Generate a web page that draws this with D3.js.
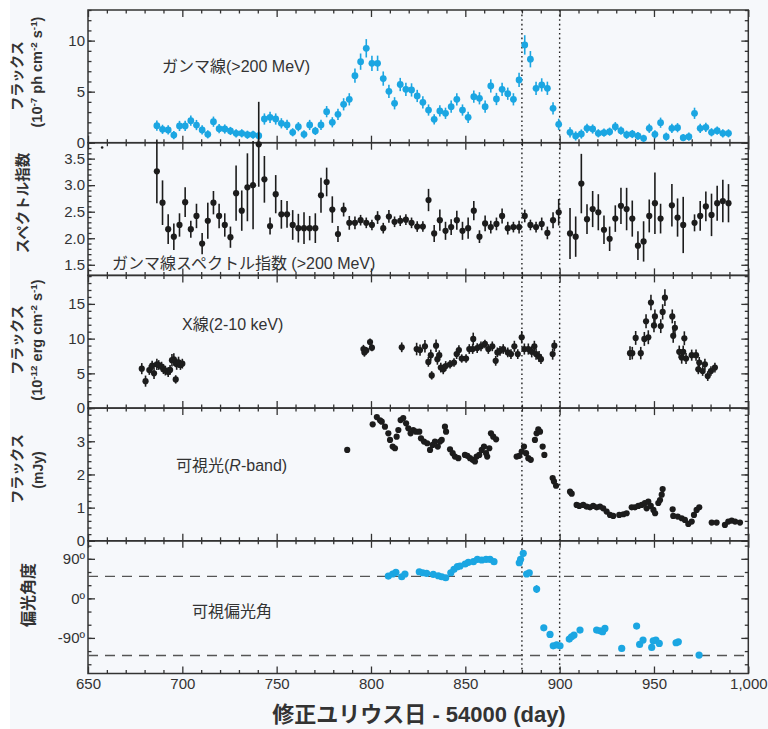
<!DOCTYPE html>
<html>
<head>
<meta charset="utf-8">
<script src="https://cdn.jsdelivr.net/npm/d3@7"></script>
<style>
body { margin: 0; background: #fff; }
svg text { font-family: "Liberation Sans", Arial, "Noto Sans CJK JP", sans-serif; fill: #333; }
</style>
</head>
<body>
<div id="chart"></div>
<script>
// ---- data ----
// gamma-ray flux (>200 MeV), 1e-7 ph cm-2 s-1
const gammaDay = [686.5,689.5,692.5,695.5,698.5,701.5,704.5,707.5,710.5,713.5,716.5,719.5,722.5,725.5,728.5,731.5,734.5,737.5,740.5,743.5,
  746.5,749.5,752.5,755.5,758.5,761.5,764.5,767.5,770.5,773.5,776.5,779.5,782.5,785.5,788.5,791.5,794.5,797.5,800.5,803.5,
  806.5,809.5,812.5,815.5,818.5,821.5,824.5,827.5,830.5,833.5,836.5,839.5,842.5,845.5,848.5,851.5,854.5,857.5,860.5,863.5,
  866.5,869.5,872.5,875.5,878.5,881.5,884.5,887.5,890.5,893.5,896.5,899.5,
  905.5,908.5,911.5,914.5,917.5,920.5,923.5,926.5,929.5,932.5,935.5,938.5,941.5,944.5,947.5,950.5,953.5,956.5,959.5,962.5,
  965.5,968.5,971.5,974.5,977.5,980.5,983.5,986.5,989.5];
const gammaFlux = [1.67,1.31,1.25,0.75,1.64,1.64,2.16,1.73,1.25,0.82,2.06,1.37,1.34,1.15,0.92,0.92,0.78,0.78,0.69,2.32,
  2.49,2.32,1.90,1.74,1.02,1.57,0.82,1.74,1.15,1.74,3.04,2.00,2.78,3.76,4.25,6.57,7.94,9.25,7.78,7.78,
  6.28,5.03,3.86,5.70,5.23,5.17,4.58,3.96,3.20,2.29,3.11,2.88,3.53,4.25,3.20,2.49,4.51,4.35,3.53,5.56,
  4.28,5.23,4.80,4.25,6.15,9.58,8.18,5.33,5.66,5.33,3.37,1.80,
  1.02,0.66,0.85,1.41,1.34,0.92,0.98,1.08,1.57,1.18,0.78,0.85,0.66,0.43,1.41,0.82,1.96,0.59,1.41,1.47,
  0.49,0.59,2.88,1.41,1.51,1.02,1.18,0.92,0.92];
const gammaErr = [.5,.45,.45,.4,.5,.5,.5,.5,.45,.4,.5,.45,.45,.4,.4,.4,.4,.4,.4,.55,
  .55,.55,.5,.5,.4,.45,.4,.5,.4,.5,.55,.5,.55,.6,.6,.7,.8,.9,.75,.75,
  .7,.65,.6,.65,.65,.65,.6,.6,.55,.5,.55,.55,.6,.6,.55,.55,.6,.6,.6,.65,
  .6,.65,.6,.6,.7,.95,.8,.65,.65,.65,.6,.55,
  .5,.45,.45,.45,.45,.4,.4,.4,.45,.4,.4,.4,.4,.35,.45,.4,.5,.4,.45,.45,
  .35,.4,.55,.45,.45,.4,.4,.4,.4];

// gamma-ray photon index
const indexDay = [686.5,689.5,692.5,695.5,698.5,701.5,704.5,707.5,710.5,713.5,716.5,719.5,722.5,725.5,728.5,731.5,734.5,737.5,740.5,743.5,
  746.5,749.5,752.5,755.5,758.5,761.5,764.5,767.5,770.5,773.5,776.5,779.5,782.5,785.5,788.5,791.5,794.5,797.5,800.5,803.5,
  806.5,809.5,812.5,815.5,818.5,821.5,824.5,827.5,830.5,833.5,836.5,839.5,842.5,845.5,848.5,851.5,854.5,857.5,860.5,863.5,
  866.5,869.5,872.5,875.5,878.5,881.5,884.5,887.5,890.5,893.5,896.5,899.5,
  905.5,908.5,911.5,914.5,917.5,920.5,923.5,926.5,929.5,932.5,935.5,938.5,941.5,944.5,947.5,950.5,953.5,
  959.5,962.5,965.5,971.5,974.5,977.5,980.5,983.5,986.5,989.5];
const indexVal = [3.26,2.67,2.17,2.03,2.25,2.68,2.17,2.42,1.90,2.33,2.67,2.42,2.25,2.02,2.85,2.52,2.96,3.00,3.77,3.11,
  2.23,2.83,2.45,2.45,2.25,2.19,2.19,2.19,2.19,2.81,3.06,2.54,2.08,2.54,2.29,2.29,2.34,2.29,2.25,2.39,
  2.19,2.41,2.31,2.33,2.35,2.29,2.22,2.22,2.72,2.09,2.34,2.14,2.21,2.34,2.14,2.19,2.52,2.03,2.28,2.21,
  2.27,2.42,2.19,2.21,2.21,2.42,2.25,2.21,2.27,2.10,2.34,2.49,
  2.09,2.03,3.03,2.36,2.55,2.49,2.16,1.99,2.37,2.61,2.55,2.37,1.86,1.94,2.42,2.66,2.37,
  2.62,2.39,2.25,2.29,2.42,2.60,2.44,2.66,2.70,2.66];
const indexErr = [.6,.42,.28,.25,.22,.28,.16,.23,.2,.34,.22,.23,.22,.2,.52,.38,.64,.83,.8,.44,
  .16,.36,.27,.25,.28,.27,.3,.23,.28,.33,.27,.25,.15,.13,.13,.12,.1,.1,.1,.12,
  .1,.12,.1,.1,.1,.1,.1,.1,.21,.16,.2,.17,.15,.18,.17,.2,.18,.12,.15,.12,
  .12,.14,.12,.1,.12,.12,.1,.1,.12,.12,.15,.25,
  .48,.38,.56,.28,.34,.34,.27,.23,.25,.34,.4,.34,.27,.38,.31,.58,.28,
  .4,.36,.53,.16,.28,.28,.4,.33,.4,.36];
const strayDay = [657.5];
const strayVal = [3.71];

// X-ray flux (2-10 keV), 1e-12 erg cm-2 s-1
const xrayDay = [678.5,680.5,682.5,684,685,686.5,687.5,689,690,691,692.5,693.5,694.5,695.5,696.5,697,698,699,700,
  796,796.5,797.5,799.5,800.5,
  816.3,824.2,826,828.6,830.4,831.7,832.2,834.5,835.2,836.2,837,838.3,839.6,841.9,844,845.4,846.6,848.1,850.4,852.1,
  853.9,854.2,856.3,858.3,860.4,862.2,864.3,866.1,867,868.4,870.1,872.5,874.2,876,877.8,879.9,881.3,883.4,885.2,886.6,
  887.5,889.1,890.1,896.3,897.2,
  937.3,938.5,940.3,943,944.9,945.8,947,948.4,950,950.5,953.6,954.6,955.8,959.7,960.2,961.1,963.4,964.7,965.5,966.1,
  967,970,972.3,973.5,974,975.8,977,978.5,980.2,982.3];
const xrayFlux = [5.68,3.88,5.48,6.1,5.0,6.3,6.2,5.97,5.6,5.4,5.19,5.5,6.9,7.0,4.13,6.31,6.6,6.2,6.4,
  8.5,8.0,8.3,9.5,8.7,
  8.75,8.5,8.35,8.89,6.65,7.62,4.71,8.98,7.04,7.62,5.83,5.58,6.06,6.31,6.56,7.77,8.35,7.14,7.14,8.5,
  8.5,9.96,8.64,8.89,9.23,8.5,8.89,6.8,8.02,8.25,8.5,8.02,7.77,8.89,7.77,10.2,8.5,8.5,8.1,8.89,
  7.77,7.43,7.04,7.77,8.98,
  7.91,7.91,10.1,7.91,9.96,12.5,10.2,15.2,11.9,13.2,11.8,13.85,15.9,13.2,10.4,11.55,8.1,7.29,8.1,10.05,
  7.14,7.62,7.62,5.58,6.56,5.34,6.31,4.61,5.34,5.83];
const xrayErr = [.8,.8,.7,.7,.8,.8,.7,.7,.7,.7,.7,.7,.9,.9,.6,.8,.8,.7,.7,
  .6,.6,.5,.5,.5,
  .7,.9,.8,.9,.7,.8,.6,.9,.8,.7,.7,.7,.7,.6,.6,.7,.7,.6,.6,.7,
  .7,.9,.7,.7,.6,.7,.7,.7,.7,.7,.7,.7,.7,.8,.7,.9,.8,.8,.8,.8,
  .8,.8,.7,.8,.8,
  1.0,.9,1.0,.9,1.0,1.0,1.0,1.1,1.0,1.0,1.0,1.1,1.2,1.0,1.0,1.0,.9,.9,.9,1.0,
  .8,.8,.8,.7,.8,.7,.8,.7,.7,.7];

// optical R-band flux, mJy
const optDay = [787.4,800.9,803.1,804.8,805.7,807.4,809.2,810.1,811.5,812.7,813.6,814.5,815.7,817.1,818.6,819.8,821,822.4,823.9,825.6,
  826.5,828.1,829.8,831.3,832.7,833.9,835.4,836.6,837.5,839.2,839.8,841.9,843.3,844.5,846.3,849.8,851.1,852.5,853.9,855.1,
  856,857.4,858.7,859.9,861,861.6,862.7,863.6,864.8,866.3,
  877.2,878.6,879.9,881.1,882.2,883.4,884.7,886.9,887.8,888.7,889.6,891,891.9,896.3,897,898.1,
  905.5,906.4,909,910.4,912.5,914.3,916.1,917.8,919.6,921.4,923.1,924.9,926.7,928.4,931.6,933.8,935.5,938.2,939.9,941.7,
  943.5,945.2,946.1,947,948.3,949.7,950.6,952.3,953.2,954.1,954.6,
  959.9,960.2,962.6,964.7,966.4,968.2,970,971.2,972.6,974,980.6,983.2,987.6,989.4,991.2,993,995.6];
const optFlux = [2.74,3.51,3.73,3.63,3.59,3.44,3.24,3.04,2.84,2.79,3.14,3.34,3.64,3.70,3.54,3.39,3.24,3.34,3.29,3.29,
  3.09,2.99,2.94,2.74,2.89,2.99,2.84,2.99,3.04,3.44,3.29,2.76,2.64,2.54,2.49,2.59,2.56,2.49,2.44,2.39,
  2.54,2.59,2.74,2.84,2.64,2.54,2.79,3.24,3.14,3.06,
  2.54,2.56,2.69,2.84,2.64,2.49,2.44,3.04,3.24,3.36,3.29,2.84,2.59,1.89,1.79,1.66,
  1.48,1.42,1.08,1.05,1.08,1.03,1.01,1.05,1.01,1.03,0.98,0.88,0.78,0.75,0.78,0.80,0.83,1.01,1.01,1.05,
  1.08,1.14,0.98,1.18,1.05,0.93,0.83,1.14,1.23,1.39,1.56,
  0.95,0.75,0.73,0.68,0.63,0.51,0.58,0.78,0.93,1.01,0.55,0.55,0.48,0.58,0.61,0.58,0.55];

// optical polarization angle, degrees
const polDay = [809.2,811.5,813.2,816.3,818,825.6,827.4,829.5,833,835.7,837.5,839.6,842.3,844,845.8,847.2,849.9,851.6,854.3,856.4,
  858.7,861,863.1,865.2,878.6,879.3,880.7,882.5,883.9,887.8,891.6,894.9,896.6,898.4,900.2,905.1,906.3,907.6,910.8,919.6,
  921.4,922.8,924,932.9,940.8,942.4,944.2,948.8,949.6,951,952.8,961.7,962.9,973.9];
const polAngle = [50.8,55.4,59.2,49.2,55.4,60.6,58.3,57,54.7,51.5,49.2,46.9,58.3,66.1,72,73.6,78.2,82,83.4,88.9,
  87.3,88.9,88.9,83.4,81.1,88.9,102.5,55.4,58.3,21.2,-67,-82,-108,-106,-108,-92.7,-87.5,-83.6,-72.2,-72.2,
  -73.8,-76,-68.4,-114,-63,-104.8,-95,-111.6,-96.6,-95,-102.5,-101,-98.8,-129];
const polErr = [2,2,2,2,2,2,2,2,2,2,2,2,2,2,2,2,2,2,2,2,
  2,2,2,2,3,3,5,3,3,9,3,3,3,3,3,3,3,3,3,3,
  3,3,3,7,4,3,3,3,3,3,3,3,3,2];

const flareLines = [880, 900];
const polRefLines = [50, -130];

// ---- layout ----
const W = 768, H = 729;
const FONT = '"Liberation Sans", Arial, "Noto Sans CJK JP", sans-serif';
const BLUE = "#1ba6e2", INK = "#1c1c1c", AX = "#333";
const left = 88, right = 748.3, top0 = 10, panelH = 132.7;

const svg = d3.select("#chart").append("svg")
    .attr("width", W)
    .attr("height", H);

svg.append("rect").attr("x", 10).attr("width", W - 10).attr("height", H).attr("fill", "#f6f8fb");

const x = d3.scaleLinear().domain([650, 1000]).range([left, right]);
const xMajor = d3.range(650, 1001, 50);
const xMinor = d3.range(650, 1001, 10).filter(v => v % 50 !== 0);

function styleAxis(g) {
    g.attr("font-size", 15).attr("font-family", FONT);
    g.select(".domain").remove();
    g.selectAll("line").attr("stroke", AX).attr("stroke-width", 1.3);
    g.selectAll("text").attr("fill", AX);
}

const frames = svg.append("g");

function makePanel(i, domain, major, minor, fmt, last) {
    const y0 = top0 + i * panelH, y1 = y0 + panelH;
    const y = d3.scaleLinear().domain(domain).range([y1, y0]);
    const g = svg.append("g");

    frames.append("rect")
        .attr("x", left).attr("y", y0)
        .attr("width", right - left).attr("height", panelH)
        .attr("fill", "none").attr("stroke", AX).attr("stroke-width", 1.5);

    // y ticks, left with labels, right bare
    g.append("g").attr("transform", `translate(${left},0)`)
        .call(d3.axisLeft(y).tickValues(major).tickFormat(fmt).tickSize(-7).tickPadding(3)).call(styleAxis);
    g.append("g").attr("transform", `translate(${left},0)`)
        .call(d3.axisLeft(y).tickValues(minor).tickFormat("").tickSize(-3.5)).call(styleAxis);
    g.append("g").attr("transform", `translate(${right},0)`)
        .call(d3.axisRight(y).tickValues(major).tickFormat("").tickSize(-7)).call(styleAxis);
    g.append("g").attr("transform", `translate(${right},0)`)
        .call(d3.axisRight(y).tickValues(minor).tickFormat("").tickSize(-3.5)).call(styleAxis);

    // x ticks top and bottom of every panel
    g.append("g").attr("transform", `translate(0,${y0})`)
        .call(d3.axisTop(x).tickValues(xMajor).tickFormat("").tickSize(-7)).call(styleAxis);
    g.append("g").attr("transform", `translate(0,${y0})`)
        .call(d3.axisTop(x).tickValues(xMinor).tickFormat("").tickSize(-3.5)).call(styleAxis);
    g.append("g").attr("transform", `translate(0,${y1})`)
        .call(d3.axisBottom(x).tickValues(xMajor).tickFormat(last ? d3.format(",") : "").tickSize(-7).tickPadding(5)).call(styleAxis);
    g.append("g").attr("transform", `translate(0,${y1})`)
        .call(d3.axisBottom(x).tickValues(xMinor).tickFormat("").tickSize(-3.5)).call(styleAxis);

    return { y, y0, y1 };
}

const p1 = makePanel(0, [0, 13], [0, 5, 10], d3.range(0, 13.1, 1), d3.format("d"));
const p2 = makePanel(1, [1.3, 3.8], [1.5, 2.0, 2.5, 3.0, 3.5], d3.range(1.3, 3.81, 0.1), d3.format(".1f"));
const p3 = makePanel(2, [0, 19.1], [0, 5, 10, 15], d3.range(0, 19.1, 1), d3.format("d"));
const p4 = makePanel(3, [0, 4], [0, 1, 2, 3], d3.range(0, 4.01, 0.2), d3.format("d"));
const p5 = makePanel(4, [-171, 131], [90, 0, -90], d3.range(-150, 131, 30), d => d + "º", true);

// reference lines
svg.selectAll(".flare").data(flareLines).enter().append("line")
    .attr("x1", d => x(d)).attr("x2", d => x(d))
    .attr("y1", top0).attr("y2", p5.y1)
    .attr("stroke", "#222").attr("stroke-width", 1.4).attr("stroke-dasharray", "1.6,3");

svg.selectAll(".polref").data(polRefLines).enter().append("line")
    .attr("x1", left).attr("x2", right)
    .attr("y1", d => p5.y(d)).attr("y2", d => p5.y(d))
    .attr("stroke", "#555").attr("stroke-width", 1.3).attr("stroke-dasharray", "10,7");

// points with error bars
function drawSeries(days, vals, errs, y, color, r) {
    const data = days.map((d, i) => ({ d, v: vals[i], e: errs ? errs[i] : 0 }));
    const g = svg.append("g");
    if (errs) {
        g.selectAll("line").data(data).enter().append("line")
            .attr("x1", p => x(p.d)).attr("x2", p => x(p.d))
            .attr("y1", p => y(p.v - p.e)).attr("y2", p => y(p.v + p.e))
            .attr("stroke", color).attr("stroke-width", 1.6);
    }
    g.selectAll("circle").data(data).enter().append("circle")
        .attr("cx", p => x(p.d)).attr("cy", p => y(p.v))
        .attr("r", r).attr("fill", color);
}

drawSeries(gammaDay, gammaFlux, gammaErr, p1.y, BLUE, 3.4);
drawSeries(indexDay, indexVal, indexErr, p2.y, INK, 3.1);
drawSeries(strayDay, strayVal, null, p2.y, INK, 1.3);
drawSeries(xrayDay, xrayFlux, xrayErr, p3.y, INK, 3.1);
drawSeries(optDay, optFlux, null, p4.y, INK, 3.1);
drawSeries(polDay, polAngle, polErr, p5.y, BLUE, 3.6);

// panel captions
const captions = [
    { x: 162, y: 72, t: "ガンマ線(>200 MeV)" },
    { x: 112, y: 269, t: "ガンマ線スペクトル指数 (>200 MeV)" },
    { x: 182, y: 330, t: "X線(2-10 keV)" },
    { x: 176, y: 471, t: "可視光(", it: "R", t2: "-band)" },
    { x: 192, y: 617, t: "可視偏光角" }
];
captions.forEach(c => {
    const t = svg.append("text").attr("x", c.x).attr("y", c.y).attr("font-size", 16).attr("fill", AX);
    t.append("tspan").text(c.t);
    if (c.it) {
        t.append("tspan").attr("font-style", "italic").text(c.it);
        t.append("tspan").text(c.t2);
    }
});

// y axis titles (rotated)
function yTitle(cx, cy, parts, size) {
    const t = svg.append("text")
        .attr("transform", `translate(${cx},${cy}) rotate(-90)`)
        .attr("text-anchor", "middle").attr("dy", "0.35em")
        .attr("font-size", size).attr("font-weight", "bold").attr("fill", "#222");
    parts.forEach(p => {
        if (typeof p === "string") t.append("tspan").text(p);
        else t.append("tspan").attr("baseline-shift", "super").attr("font-size", size * 0.68).text(p.sup);
    });
}

yTitle(17, 76, ["フラックス"], 14);
yTitle(37, 72, ["(10", { sup: "-7" }, " ph cm", { sup: "-2" }, " s", { sup: "-1" }, ")"], 14.5);
yTitle(23, 203, ["スペクトル指数"], 14.5);
yTitle(17, 340, ["フラックス"], 14);
yTitle(37, 340, ["(10", { sup: "-12" }, " erg cm", { sup: "-2" }, " s", { sup: "-1" }, ")"], 14.5);
yTitle(17, 469, ["フラックス"], 14);
yTitle(38, 470, ["(mJy)"], 14);
yTitle(28, 595, ["偏光角度"], 16);

// x axis title
svg.append("text")
    .attr("x", 419).attr("y", 714).attr("dy", "0.35em")
    .attr("text-anchor", "middle")
    .attr("font-size", 22).attr("font-weight", "bold").attr("fill", "#222")
    .text("修正ユリウス日 - 54000 (day)");
</script>
</body>
</html>
